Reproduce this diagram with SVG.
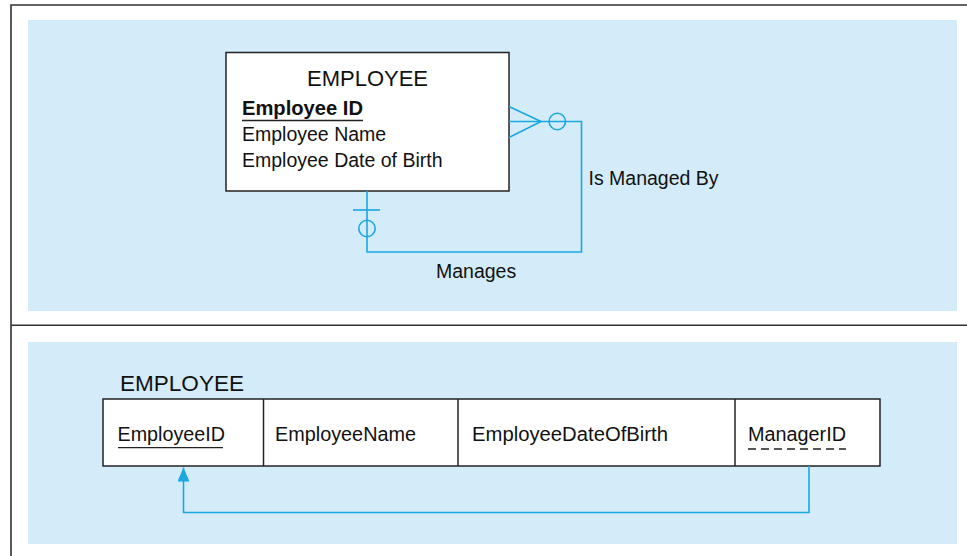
<svg xmlns="http://www.w3.org/2000/svg" width="967" height="556" viewBox="0 0 967 556">
<style>
.frame{stroke:#333;stroke-width:1.6;fill:none}
.panel{fill:#d4ecf9}
.box{fill:#fff;stroke:#222;stroke-width:1.5}
.conn{stroke:#1aa8e0;stroke-width:1.6;fill:none}
text{font-family:"Liberation Sans",Arial,sans-serif;fill:#111}
.t{font-size:19.5px}
.title{font-size:22px}
</style>
<defs>
<marker id="arr" markerWidth="14" markerHeight="12" refX="14" refY="6" orient="auto" markerUnits="userSpaceOnUse" viewBox="0 0 14 12">
<path d="M0,0 L14,6 L0,12 Z" fill="#1aa8e0"/>
</marker>
</defs>
<rect width="967" height="556" fill="#fff"/>
<rect class="panel" x="28" y="20" width="929" height="291"/>
<rect class="panel" x="28" y="342" width="929" height="202"/>
<path class="frame" d="M11,556 V5 H967 M11,325.3 H967"/>
<g id="employee-entity">
<rect class="box" x="226" y="52.5" width="283" height="138.5"/>
<text class="title" x="367.5" y="86" text-anchor="middle">EMPLOYEE</text>
<text class="t" x="242" y="115" font-weight="bold" textLength="121" lengthAdjust="spacingAndGlyphs">Employee ID</text>
<line x1="242" y1="120.5" x2="363" y2="120.5" stroke="#222" stroke-width="1.5"/>
<text class="t" x="242" y="140.5">Employee Name</text>
<text class="t" x="242" y="166.5">Employee Date of Birth</text>
</g>
<g id="employee-table">
<text class="title" x="120" y="391" textLength="124" lengthAdjust="spacingAndGlyphs">EMPLOYEE</text>
<rect class="box" x="103" y="399" width="777" height="67"/>
<line x1="263.5" y1="399" x2="263.5" y2="466" stroke="#222" stroke-width="1.5"/>
<line x1="458" y1="399" x2="458" y2="466" stroke="#222" stroke-width="1.5"/>
<line x1="735" y1="399" x2="735" y2="466" stroke="#222" stroke-width="1.5"/>
<text class="t" x="117.5" y="441" textLength="107.5" lengthAdjust="spacingAndGlyphs">EmployeeID</text>
<line x1="118" y1="447.7" x2="223" y2="447.7" stroke="#222" stroke-width="1.3"/>
<text class="t" x="275" y="441" textLength="141" lengthAdjust="spacingAndGlyphs">EmployeeName</text>
<text class="t" x="472" y="441" textLength="196" lengthAdjust="spacingAndGlyphs">EmployeeDateOfBirth</text>
<text class="t" x="748" y="441" textLength="98" lengthAdjust="spacingAndGlyphs">ManagerID</text>
<line x1="748" y1="449" x2="846" y2="449" stroke="#222" stroke-width="1.3" stroke-dasharray="8,5"/>
</g>
<g id="connectors">
<path class="conn" d="M509,121.5 H581.5 V252 H367 V191"/>
<path class="conn" d="M509,106.5 L541,121.5 L509,137.5"/>
<circle class="conn" cx="557.3" cy="121.5" r="8.2"/>
<line class="conn" x1="353" y1="210" x2="380" y2="210"/>
<circle class="conn" cx="367" cy="228.5" r="8.2"/>
<text class="t" x="588.5" y="185">Is Managed By</text>
<text class="t" x="436" y="277.5">Manages</text>
<path class="conn" d="M809,466 V512.5 H183.5 V467.5" marker-end="url(#arr)"/>
</g>
</svg>
